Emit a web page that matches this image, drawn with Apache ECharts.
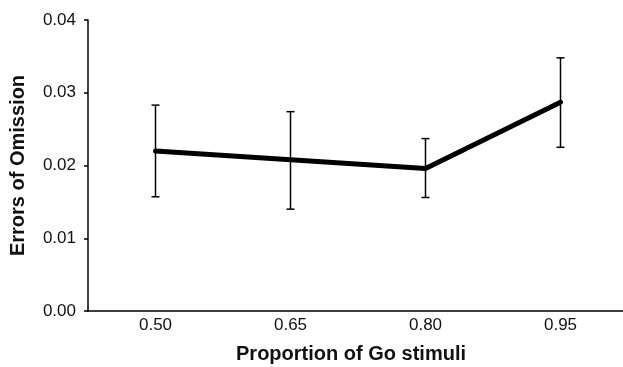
<!DOCTYPE html>
<html>
<head>
<meta charset="utf-8">
<script src="https://cdn.jsdelivr.net/npm/echarts@6/dist/echarts.min.js"></script>
<style>
  html, body { margin: 0; padding: 0; background: #fff; }
  #chart { width: 623px; height: 367px; }
</style>
</head>
<body>
<div id="chart"></div>
<script>
const categories = ['0.50', '0.65', '0.80', '0.95'];
const meanErrors = [0.0220, 0.0208, 0.0196, 0.0287];
const errLow = [0.0157, 0.0140, 0.0156, 0.0225];
const errHigh = [0.0283, 0.0274, 0.0237, 0.0348];
const yTicks = [0, 0.01, 0.02, 0.03, 0.04];

const chart = echarts.init(document.getElementById('chart'));

const barData = categories.map((c, i) => [i, errLow[i], errHigh[i]]);

const option = {
    backgroundColor: '#fff',
    animation: false,
    grid: { left: 88, top: 20, width: 540, height: 291, outerBoundsMode: 'none' },
    xAxis: {
        type: 'category',
        data: categories,
        boundaryGap: true,
        axisLine: { lineStyle: { color: '#000', width: 1.5 } },
        axisTick: { show: false },
        axisLabel: { color: '#111', fontSize: 17, fontFamily: 'Liberation Sans', margin: 6 },
        name: 'Proportion of Go stimuli',
        nameLocation: 'middle',
        nameGap: 33,
        nameTextStyle: { color: '#111', fontSize: 20, fontWeight: 'bold', fontFamily: 'Liberation Sans', padding: [0, 14, 0, 0] }
    },
    yAxis: {
        type: 'value',
        min: yTicks[0],
        max: yTicks[yTicks.length - 1],
        interval: 0.01,
        axisLine: { show: true, lineStyle: { color: '#000', width: 1.5 } },
        axisTick: { show: true, length: 4, lineStyle: { color: '#000', width: 1.5 } },
        splitLine: { show: false },
        axisLabel: {
            color: '#111', fontSize: 17, fontFamily: 'Liberation Sans', margin: 12,
            formatter: v => v.toFixed(2)
        },
        name: 'Errors of Omission',
        nameLocation: 'middle',
        nameGap: 60,
        nameTextStyle: { color: '#111', fontSize: 20, fontWeight: 'bold', fontFamily: 'Liberation Sans' }
    },
    series: [
        {
            type: 'custom',
            data: barData,
            z: 1,
            renderItem: function (params, api) {
                const x = api.value(0);
                const lo = api.coord([x, api.value(1)]);
                const hi = api.coord([x, api.value(2)]);
                const half = 4;
                const style = { stroke: '#000', lineWidth: 1.5 };
                return {
                    type: 'group',
                    children: [
                        { type: 'line', shape: { x1: lo[0], y1: lo[1], x2: hi[0], y2: hi[1] }, style: style },
                        { type: 'line', shape: { x1: lo[0] - half, y1: lo[1], x2: lo[0] + half, y2: lo[1] }, style: style },
                        { type: 'line', shape: { x1: hi[0] - half, y1: hi[1], x2: hi[0] + half, y2: hi[1] }, style: style }
                    ]
                };
            }
        },
        {
            type: 'line',
            data: meanErrors,
            z: 2,
            symbol: 'none',
            lineStyle: { color: '#000', width: 5, cap: 'round', join: 'round' }
        }
    ]
};

chart.setOption(option);
</script>
</body>
</html>
